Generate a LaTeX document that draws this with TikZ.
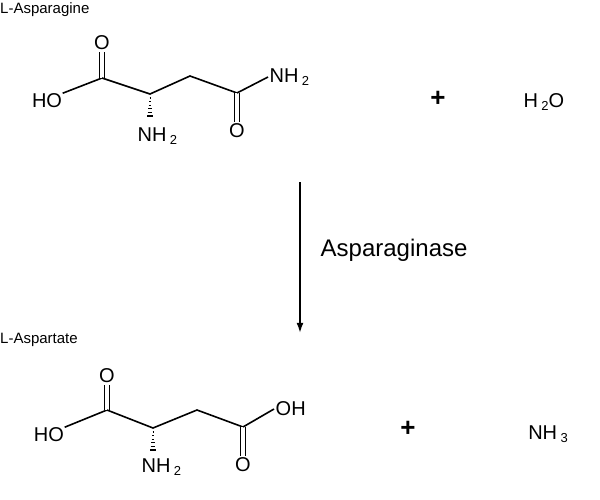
\documentclass[tikz,border=0pt]{standalone}
\usepackage{fontspec}
\setmainfont{Liberation Sans}
\usetikzlibrary{calc,arrows.meta}
\newcommand{\sbs}[1]{\,\raisebox{-0.3ex}{\fontsize{13}{13}\selectfont #1}}
\begin{document}
\begin{tikzpicture}[x=1pt,y=-1pt,
  bond/.style={line width=1.6pt},
  dbl/.style={line width=1.4pt, double, double distance=3.5pt},
  atom/.style={inner sep=1.5pt, font=\fontsize{20}{20}\selectfont},
  lbl/.style={inner sep=0pt, font=\fontsize{15}{16}\selectfont},
  c/.style={inner sep=0pt, minimum size=0pt}]
\useasboundingbox (0,0) rectangle (600,500);
% top molecule
\node[lbl, anchor=west] (t1) at (0,10) {L-Asparagine};
\node[atom] (ho1) at (47,101) {HO};
\node[c] (c1) at (102,78) {};
\node[atom] (o1) at (102,43) {O};
\node[c] (ca1) at (150,94) {};
\node[atom, anchor=west] (n1) at (136,136) {NH\sbs{2}};
\node[c] (cb1) at (190,76) {};
\node[c] (cc1) at (237,93) {};
\node[atom] (o2) at (237,131) {O};
\node[atom, anchor=west] (n2) at (268,77) {NH\sbs{2}};
\draw[bond] (ho1.north east) ++(-1,1) coordinate(h1) (h1) -- (c1.center);
\draw[dbl] (c1.center) -- (o1.south);
\draw[bond] (c1.center) -- (ca1.center) -- (cb1.center) -- (cc1.center);
\draw[dbl] (cc1.center) -- (o2.north);
\draw[bond] (cc1.center) -- (n2.west);
\foreach \i in {0,...,5}
  \draw[line width=1.2pt] ($(ca1)+(-0.4-0.5*\i,4+3.6*\i)$) -- ++(0.8+1*\i,0);
% bottom molecule
\node[lbl, anchor=west] (t2) at (0,340) {L-Aspartate};
\node[atom] (ho2) at (49,435) {HO};
\node[c] (c2) at (107,410) {};
\node[atom] (o3) at (107,376) {O};
\node[c] (ca2) at (153,428) {};
\node[atom, anchor=west] (n3) at (140,467) {NH\sbs{2}};
\node[c] (cb2) at (197,410) {};
\node[c] (cc2) at (243,427) {};
\node[atom] (o4) at (243,465) {O};
\node[atom, anchor=west] (oh2) at (274,409) {OH};
\draw[bond] (ho2.north east) ++(-1,1) coordinate(h2) (h2) -- (c2.center);
\draw[dbl] (c2.center) -- (o3.south);
\draw[bond] (c2.center) -- (ca2.center) -- (cb2.center) -- (cc2.center);
\draw[dbl] (cc2.center) -- (o4.north);
\draw[bond] (cc2.center) -- (oh2.west);
\foreach \i in {0,...,5}
  \draw[line width=1.2pt] ($(ca2)+(-0.4-0.5*\i,4+3.6*\i)$) -- ++(0.8+1*\i,0);
% others
\node[atom, font=\bfseries\fontsize{26}{26}\selectfont] (p1) at (438,99) {+};
\node[atom] (w) at (544,102) {H\sbs{2}O};
\node[atom, font=\bfseries\fontsize{26}{26}\selectfont] (p2) at (408,429) {+};
\node[atom] (am) at (548,434) {NH\sbs{3}};
\node[c] (a1) at (300,182) {};
\node[c] (a2) at (300,333) {};
\draw[line width=1.5pt, -{Latex[length=10pt,width=7pt]}] (a1) -- (a2);
\node[atom, anchor=west, font=\fontsize{24}{24}\selectfont] (enz) at (319,250) {Asparaginase};
\end{tikzpicture}
\end{document}
